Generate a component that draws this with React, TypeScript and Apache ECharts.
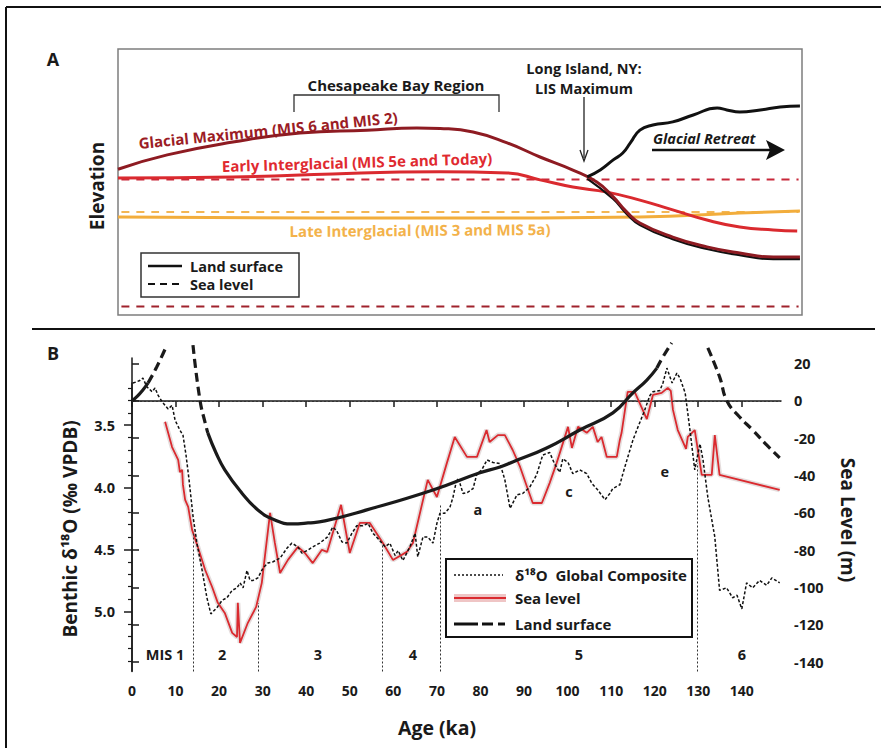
import React, { useEffect, useRef } from 'react';
import * as echarts from 'echarts';

// ---------------- Panel A: schematic profiles (relative distance 0-100, relative elevation 0-100)
const glacialMaxX = [0, 7.2, 16.8, 26.6, 36.4, 43.7, 47.1, 51.9, 56.9, 61.7, 66.5, 70.0, 72.4, 74.4, 76.3, 81.1, 86.1, 90.9, 95.8, 99.7];
const glacialMaxY = [54.8, 60.2, 65.0, 68.4, 69.5, 70.3, 70.1, 68.8, 64.7, 59.4, 54.5, 50.0, 44.4, 38.7, 34.6, 29.3, 25.6, 23.3, 21.8, 21.8];
const earlyInterX = [0, 16.8, 31.4, 41.2, 47.1, 56.9, 61.7, 66.5, 71.5, 76.3, 81.1, 86.1, 90.9, 95.8, 99.3];
const earlyInterY = [51.5, 51.9, 53.0, 53.8, 53.9, 53.4, 50.8, 48.1, 46.2, 43.2, 39.5, 35.7, 33.1, 32.0, 31.6];
const lateInterX = [0, 29.2, 47.1, 61.7, 76.3, 90.9, 99.7];
const lateInterY = [36.8, 36.5, 36.5, 36.5, 36.8, 38.3, 39.1];
const lisX = [68.6, 70.5, 72.4, 73.8, 74.9, 76.3, 78.2, 81.1, 84.1, 87.6, 89.0, 90.9, 93.9, 96.8, 99.7];
const lisY = [51.9, 54.5, 58.3, 60.9, 64.7, 69.5, 71.4, 72.6, 75.2, 77.8, 77.1, 76.3, 77.1, 78.2, 78.6];
const lisBaseX = [68.6, 72.4, 74.4, 76.3, 81.1, 86.1, 90.9, 95.8, 99.7];
const lisBaseY = [51.3, 43.6, 37.9, 33.8, 28.5, 24.8, 22.5, 21.0, 21.0];
const seaExtent = [0.5, 99.5];
const seaEarly = 50.9;
const seaLate = 38.7;
const seaGlacial = 3.2;

// ---------------- Panel B
const seaAge = [7.6, 9.2, 10.6, 11.0, 11.5, 11.7, 12.2, 12.9, 13.8, 15.1, 16.8, 18.4, 19.7, 21.3, 23.0, 24.1, 24.3, 24.8, 26.6, 28.5, 29.8, 30.5, 31.7, 32.8, 34.0, 35.8, 38.1, 39.7, 41.5, 43.6, 44.8, 48.0, 50.0, 52.3, 54.6, 57.6, 59.9, 63.1, 64.5, 67.9, 70.0, 72.3, 74.1, 76.9, 79.2, 81.4, 82.1, 84.0, 85.6, 87.4, 89.1, 90.7, 92.0, 94.1, 95.9, 97.5, 100.1, 101.0, 102.4, 104.4, 105.8, 106.9, 107.8, 109.0, 111.3, 112.0, 112.4, 113.8, 115.4, 118.2, 119.6, 121.6, 123.0, 123.7, 124.2, 125.3, 127.2, 127.6, 129.2, 130.8, 133.1, 133.8, 134.9, 148.7];
const seaLevel = [-11.2, -24.7, -31.6, -38.1, -36.9, -45.0, -53.0, -56.8, -69.1, -78.2, -90.6, -99.7, -108.2, -113.6, -124.3, -126.5, -108.2, -129.7, -118.9, -110.4, -97.5, -83.6, -60.0, -76.1, -92.2, -85.2, -78.2, -81.5, -86.9, -79.8, -80.9, -55.7, -81.5, -65.4, -65.4, -76.1, -85.2, -80.9, -76.1, -42.3, -51.5, -33.2, -19.3, -30.0, -30.0, -15.6, -22.0, -18.3, -18.3, -26.3, -35.4, -46.1, -54.7, -54.7, -43.9, -33.2, -13.9, -25.2, -13.9, -17.1, -13.9, -22.0, -19.3, -30.0, -30.0, -20.9, -17.1, 4.8, 4.8, -9.7, 3.2, 4.3, 7.0, 5.4, -4.8, -15.6, -25.7, -19.3, -15.6, -39.6, -39.6, -18.3, -39.6, -47.7];

const d18oAge = [0.2, 1.1, 1.8, 2.5, 3.4, 4.6, 5.3, 6.0, 7.1, 8.3, 9.2, 9.9, 11.0, 11.7, 12.4, 13.1, 14.0, 14.9, 16.1, 17.2, 18.1, 19.5, 20.7, 21.8, 23.0, 24.1, 24.8, 25.5, 26.4, 27.1, 27.8, 28.9, 30.1, 31.2, 32.4, 34.0, 35.6, 36.7, 38.1, 39.0, 40.2, 41.5, 43.1, 44.9, 46.1, 47.0, 48.2, 49.3, 50.5, 51.6, 53.0, 54.2, 55.3, 56.9, 58.1, 59.2, 60.4, 61.1, 62.2, 63.8, 65.0, 65.6, 66.8, 67.9, 69.1, 70.0, 70.7, 71.8, 73.0, 73.7, 74.6, 75.3, 76.0, 77.1, 78.3, 79.2, 80.3, 81.5, 82.9, 84.5, 85.6, 86.8, 88.4, 89.7, 91.3, 92.9, 94.3, 95.9, 97.0, 98.2, 98.9, 100.1, 101.2, 102.8, 104.4, 105.6, 106.9, 108.6, 109.7, 110.4, 112.0, 112.7, 113.8, 115.0, 116.1, 117.7, 118.9, 119.6, 121.2, 121.9, 122.8, 124.0, 125.1, 125.8, 127.0, 128.1, 129.2, 130.4, 131.1, 132.2, 133.8, 134.9, 136.5, 137.9, 138.9, 140.0, 141.1, 142.5, 144.1, 145.7, 146.9, 148.7];
const d18o = [3.16, 3.15, 3.14, 3.12, 3.19, 3.23, 3.20, 3.26, 3.32, 3.37, 3.34, 3.46, 3.54, 3.58, 3.74, 3.94, 4.23, 4.45, 4.67, 4.89, 5.02, 4.97, 4.91, 4.89, 4.83, 4.81, 4.77, 4.81, 4.67, 4.75, 4.75, 4.73, 4.65, 4.61, 4.60, 4.57, 4.49, 4.45, 4.48, 4.53, 4.51, 4.48, 4.45, 4.40, 4.32, 4.35, 4.44, 4.45, 4.37, 4.31, 4.31, 4.29, 4.37, 4.43, 4.48, 4.45, 4.55, 4.51, 4.59, 4.48, 4.37, 4.56, 4.40, 4.40, 4.45, 4.29, 4.21, 4.21, 4.16, 4.08, 3.93, 3.97, 4.05, 4.04, 4.01, 3.89, 3.86, 3.78, 3.80, 3.81, 3.94, 4.17, 4.06, 4.05, 4.00, 3.90, 3.74, 3.72, 3.81, 3.88, 3.77, 3.80, 3.89, 3.86, 3.89, 3.97, 4.02, 4.10, 4.05, 4.01, 3.98, 3.89, 3.76, 3.62, 3.52, 3.38, 3.26, 3.23, 3.22, 3.16, 3.04, 3.16, 3.08, 3.12, 3.24, 3.54, 3.86, 3.65, 3.78, 4.08, 4.40, 4.83, 4.81, 4.89, 4.87, 4.98, 4.77, 4.81, 4.75, 4.79, 4.73, 4.77];

// land surface (m, right axis) - solid and extrapolated (dashed) parts
const landHoloSolidAge = [0, 1.3, 2.5, 3.7];
const landHoloSolid = [0, 2.7, 5.9, 9.7];
const landHoloDashAge = [3.7, 5.7, 8.0];
const landHoloDash = [9.7, 18.3, 29.9];
const landInDashAge = [14.0, 15.6, 16.8, 17.4];
const landInDash = [29.9, 0.5, -11.8, -17.1];
const landMainAge = [17.4, 19.3, 21.3, 25.2, 28.9, 32.8, 36.7, 40.4, 44.3, 53.9, 69.1, 79.7, 84.5, 87.4, 95.2, 102.8, 110.4, 115.0, 118.2, 120.5];
const landMain = [-17.1, -27.9, -36.9, -49.3, -58.4, -63.8, -65.9, -65.4, -64.3, -58.4, -47.7, -38.6, -35.4, -32.7, -25.2, -15.6, -6.4, 4.3, 11.2, 17.6];
const landOutDashAge = [120.5, 121.9, 123.9];
const landOutDash = [17.6, 23.6, 31.1];
const landMis6DashAge = [132.2, 134.9, 136.6, 139.5, 142.5, 145.7, 148.7];
const landMis6Dash = [28.4, 12.9, 0, -8.6, -15.6, -23.6, -30.5];

const misBoundaryAge = [14.1, 28.9, 57.5, 70.7, 129.8];
const misBoundaryTop = [-70.7, -108.3, -77.2, -55.7, -33.2];
const misLabels = ['MIS 1', '2', '3', '4', '5', '6'];
const misCenter = [7.6, 20.7, 42.7, 64.5, 102.6, 140.0];
const misLabelLevel = -136;
const substageLabels = ['a', 'c', 'e'];
const substageAge = [79.4, 100.3, 122.3];
const substageLevel = [-58.4, -48.8, -38.0];

const ageTicks = [0, 10, 20, 30, 40, 50, 60, 70, 80, 90, 100, 110, 120, 130, 140];
const seaTicks = [-140, -120, -100, -80, -60, -40, -20, 0, 20];
const d18oTicks = [3.5, 4.0, 4.5, 5.0];
const d18oMinorTicks = [3.2, 3.3, 3.4, 3.6, 3.7, 3.8, 3.9, 4.1, 4.2, 4.3, 4.4, 4.6, 4.7, 4.8, 4.9, 5.1, 5.2, 5.3, 5.4];

const FF = '"Open Sans", Lato, sans-serif';
const MAROON = '#8e1b22';
const RED = '#da2a2f';
const ORANGE = '#f2ad3c';
const INK = '#1a1a1a';

const pairs = (xs: number[], ys: number[]) => xs.map((x, i) => [x, ys[i]]);

function txt(text: string, x: number, y: number, size: number, extra: any = {}, styleExtra: any = {}) {
  return {
    type: 'text', x, y, ...extra,
    style: { text, x: 0, y: 0, fill: INK, fontFamily: FF, fontWeight: 'bold', fontSize: size, lineHeight: Math.round(size + 1), align: 'center', verticalAlign: 'middle', ...styleExtra },
  };
}

export default function App() {
  const ref = useRef<HTMLDivElement>(null);
  useEffect(() => {
    document.body.style.margin = '0';
    if (!ref.current) return;
    const chart = echarts.init(ref.current, undefined, { renderer: 'svg' });

    const lineA = (data: number[][], color: string, width: number, dash?: any, z = 3) => ({
      type: 'line', xAxisIndex: 0, yAxisIndex: 0, data, smooth: true, symbol: 'none', silent: true, z,
      lineStyle: { color, width, type: dash || 'solid' },
    });
    const lineB = (data: number[][], dashed: boolean, name: string) => ({
      type: 'line', name, xAxisIndex: 1, yAxisIndex: 1, data, smooth: true, symbol: 'none', silent: true, clip: false, z: 6,
      lineStyle: { color: INK, width: 3.2, type: dashed ? [9, 5] : 'solid' },
    });
    const labelStyle = { show: true, position: 'inside', formatter: '{b}', color: INK, fontFamily: FF, fontWeight: 'bold', fontSize: 14.5 };

    const option: any = {
      animation: false,
      backgroundColor: '#ffffff',
      grid: [
        { left: 118, top: 49, width: 684, height: 266, show: true, borderColor: '#7d7d7d', borderWidth: 1.5, backgroundColor: 'transparent' },
        { left: 132, top: 358, width: 649, height: 313.5 },
        { left: 132, top: 383, width: 649, height: 288 },
      ],
      xAxis: [
        { gridIndex: 0, type: 'value', min: 0, max: 100, show: false },
        {
          gridIndex: 1, type: 'value', min: 0, max: 149, position: 'bottom',
          axisLine: { show: true, lineStyle: { color: INK, width: 1.5 } },
          axisTick: { show: true, customValues: ageTicks, length: 6, lineStyle: { color: INK, width: 1.5 } },
          axisLabel: { customValues: ageTicks, margin: 12, color: INK, fontFamily: FF, fontWeight: 'bold', fontSize: 14 },
          splitLine: { show: false },
        },
        { gridIndex: 2, type: 'value', min: 0, max: 149, show: false },
      ],
      yAxis: [
        { gridIndex: 0, type: 'value', min: 0, max: 100, show: false },
        {
          gridIndex: 1, type: 'value', position: 'right', min: -145, max: 23,
          axisLine: { show: true, lineStyle: { color: INK, width: 1.5 } },
          axisTick: { show: true, customValues: seaTicks, length: 7, lineStyle: { color: INK, width: 1.5 } },
          axisLabel: { customValues: seaTicks, margin: 13, color: INK, fontFamily: FF, fontWeight: 'bold', fontSize: 14.5, align: 'left' },
          splitLine: { show: false },
        },
        {
          gridIndex: 2, type: 'value', position: 'left', inverse: true, min: 3.16, max: 5.48,
          axisLine: { show: true, lineStyle: { color: INK, width: 1.5 } },
          axisTick: { show: true, customValues: d18oTicks, length: 8, lineStyle: { color: INK, width: 1.5 } },
          axisLabel: { customValues: d18oTicks, formatter: (v: number) => v.toFixed(1), margin: 17, color: INK, fontFamily: FF, fontWeight: 'bold', fontSize: 14.5 },
          splitLine: { show: false },
        },
        {
          gridIndex: 2, type: 'value', position: 'left', inverse: true, min: 3.16, max: 5.48,
          axisLine: { show: false },
          axisTick: { show: true, customValues: d18oMinorTicks, length: 4, lineStyle: { color: INK, width: 1.2 } },
          axisLabel: { show: false },
          splitLine: { show: false },
        },
      ],
      series: [
        // ---- Panel A
        lineA(seaExtent.map((x) => [x, seaGlacial]), '#a0222c', 2, [8, 7], 2),
        lineA(seaExtent.map((x) => [x, seaEarly]), '#c8283a', 2, [8, 7], 2),
        lineA(seaExtent.map((x) => [x, seaLate]), '#f3b654', 2, [8, 7], 2),
        lineA(pairs(lateInterX, lateInterY), ORANGE, 3),
        lineA(pairs(earlyInterX, earlyInterY), RED, 3),
        lineA(pairs(lisBaseX, lisBaseY), '#111', 2.2, undefined, 3),
        lineA(pairs(glacialMaxX, glacialMaxY), MAROON, 3, undefined, 4),
        lineA(pairs(lisX, lisY), '#111', 3, undefined, 5),

        // ---- Panel B
        {
          type: 'line', name: 'Sea level band', xAxisIndex: 1, yAxisIndex: 1, data: pairs(seaAge, seaLevel), symbol: 'none', silent: true, z: 2,
          lineStyle: { color: 'rgba(190,170,170,0.4)', width: 5 },
        },
        {
          type: 'line', name: 'Sea level', xAxisIndex: 1, yAxisIndex: 1, data: pairs(seaAge, seaLevel), symbol: 'none', silent: true, z: 3,
          lineStyle: { color: RED, width: 1.8 },
          markLine: {
            silent: true, symbol: ['none', 'none'], label: { show: false },
            lineStyle: { color: '#333', width: 1, type: [2, 2] },
            data: [
              { yAxis: 0 },
              ...misBoundaryAge.map((a, i) => [{ coord: [a, -145] }, { coord: [a, misBoundaryTop[i]] }]),
            ],
          },
        },
        {
          type: 'line', name: 'δ18O Global Composite', xAxisIndex: 2, yAxisIndex: 2, data: pairs(d18oAge, d18o), symbol: 'none', silent: true, clip: false, z: 4,
          lineStyle: { color: '#111', width: 1.5, type: [3, 2] },
        },
        lineB(pairs(landHoloSolidAge, landHoloSolid), false, 'Land surface'),
        lineB(pairs(landHoloDashAge, landHoloDash), true, 'Land surface (extrapolated)'),
        lineB(pairs(landInDashAge, landInDash), true, 'Land surface (extrapolated)'),
        lineB(pairs(landMainAge, landMain), false, 'Land surface'),
        lineB(pairs(landOutDashAge, landOutDash), true, 'Land surface (extrapolated)'),
        lineB(pairs(landMis6DashAge, landMis6Dash), true, 'Land surface (extrapolated)'),
        {
          type: 'scatter', name: 'MIS', xAxisIndex: 1, yAxisIndex: 1, symbolSize: 0, silent: true, z: 7,
          itemStyle: { opacity: 1 },
          data: misLabels.map((n, i) => ({ name: n, value: [misCenter[i], misLabelLevel] })),
          label: labelStyle,
        },
        {
          type: 'scatter', name: 'Substages', xAxisIndex: 1, yAxisIndex: 1, symbolSize: 0, silent: true, z: 7,
          itemStyle: { opacity: 1 },
          data: substageLabels.map((n, i) => ({ name: n, value: [substageAge[i], substageLevel[i]] })),
          label: labelStyle,
        },
      ],
      graphic: [
        // frame and separator
        { type: 'line', shape: { x1: 6, y1: 7, x2: 881, y2: 7 }, style: { stroke: '#111', lineWidth: 2 } },
        { type: 'line', shape: { x1: 6, y1: 7, x2: 6, y2: 748 }, style: { stroke: '#111', lineWidth: 2 } },
        { type: 'line', shape: { x1: 32, y1: 329, x2: 875, y2: 329 }, style: { stroke: '#111', lineWidth: 2 } },
        txt('A', 53, 59, 18),
        txt('B', 53, 353, 18),
        txt('Elevation', 97, 186, 19, { rotation: Math.PI / 2 }),
        // Chesapeake bracket
        { type: 'polyline', shape: { points: [[294, 112], [294, 95], [499, 95], [499, 112]] }, style: { stroke: '#333', lineWidth: 1.3, fill: 'none' } },
        txt('Chesapeake Bay Region', 396, 85, 15),
        // Long Island arrow
        txt('Long Island, NY:', 584, 68, 14.5),
        txt('LIS Maximum', 584, 88, 14.5),
        { type: 'line', shape: { x1: 584, y1: 97, x2: 584, y2: 158 }, style: { stroke: '#222', lineWidth: 1.3 } },
        { type: 'polyline', shape: { points: [[580, 150], [584, 161], [588, 150]] }, style: { stroke: '#222', lineWidth: 1.3, fill: 'none' } },
        // Glacial retreat arrow
        txt('Glacial Retreat', 653, 138, 14.5, {}, { align: 'left', fontStyle: 'italic' }),
        { type: 'line', shape: { x1: 652, y1: 150, x2: 772, y2: 150 }, style: { stroke: '#111', lineWidth: 2.5 } },
        { type: 'polygon', shape: { points: [[766, 140], [785, 150], [766, 160], [770, 150]] }, style: { fill: '#111' } },
        // curve labels
        txt('Glacial Maximum (MIS 6 and MIS 2)', 268, 130, 15, { rotation: 0.1 }, { fill: '#9b1c25' }),
        txt('Early Interglacial (MIS 5e and Today)', 357, 162, 15, { rotation: 0.03 }, { fill: '#e02a30' }),
        txt('Late Interglacial (MIS 3 and MIS 5a)', 420, 230, 15, { rotation: 0.008 }, { fill: '#f3b24a' }),
        // legend A
        { type: 'rect', shape: { x: 141, y: 253, width: 158, height: 44 }, style: { stroke: '#333', lineWidth: 1.5, fill: '#fff' }, z: 10 },
        { type: 'line', shape: { x1: 148, y1: 266, x2: 182, y2: 266 }, style: { stroke: '#111', lineWidth: 2.5 }, z: 11 },
        { type: 'line', shape: { x1: 148, y1: 284, x2: 182, y2: 284 }, style: { stroke: '#111', lineWidth: 2, lineDash: [7, 5] }, z: 11 },
        { ...txt('Land surface', 190, 266, 14.5, {}, { align: 'left', lineHeight: 15 }), z: 11 },
        { ...txt('Sea level', 190, 284, 14.5, {}, { align: 'left', lineHeight: 15 }), z: 11 },
        // legend B
        { type: 'rect', shape: { x: 446, y: 559, width: 246, height: 78 }, style: { stroke: '#111', lineWidth: 2, fill: '#fff' }, z: 10 },
        { type: 'line', shape: { x1: 454, y1: 575, x2: 503, y2: 575 }, style: { stroke: '#111', lineWidth: 1.5, lineDash: [2, 2] }, z: 11 },
        { type: 'rect', shape: { x: 454, y: 594, width: 52, height: 8 }, style: { fill: 'rgba(226,150,150,0.55)' }, z: 11 },
        { type: 'line', shape: { x1: 454, y1: 598, x2: 506, y2: 598 }, style: { stroke: RED, lineWidth: 2 }, z: 12 },
        { type: 'line', shape: { x1: 454, y1: 624, x2: 478, y2: 624 }, style: { stroke: '#111', lineWidth: 3 }, z: 11 },
        { type: 'line', shape: { x1: 482, y1: 624, x2: 493, y2: 624 }, style: { stroke: '#111', lineWidth: 3 }, z: 11 },
        { type: 'line', shape: { x1: 498, y1: 624, x2: 505, y2: 624 }, style: { stroke: '#111', lineWidth: 3 }, z: 11 },
        { ...txt('δ¹⁸O  Global Composite', 515, 575, 15, {}, { align: 'left' }), z: 11 },
        { ...txt('Sea level', 515, 598, 15, {}, { align: 'left' }), z: 11 },
        { ...txt('Land surface', 515, 624, 15, {}, { align: 'left' }), z: 11 },
        // axis titles
        txt('Benthic δ¹⁸O (‰ VPDB)', 70, 529, 19, { rotation: Math.PI / 2 }),
        txt('Sea Level (m)', 848, 520, 19, { rotation: -Math.PI / 2 }),
        txt('Age (ka)', 437, 727, 19.5),
      ],
    };

    chart.setOption(option);
    return () => chart.dispose();
  }, []);

  return <div ref={ref} style={{ width: 881, height: 748 }} />;
}
